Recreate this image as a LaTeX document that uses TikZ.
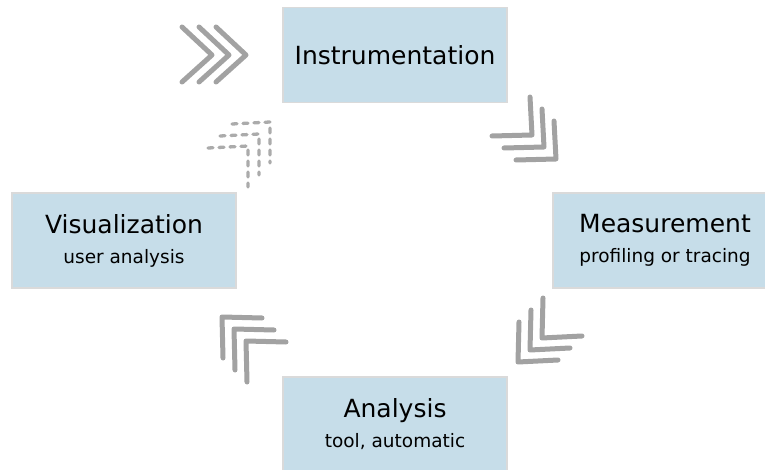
\documentclass[tikz,border=0pt]{standalone}
\usepackage{fontspec}
\setmainfont{DejaVu Sans}
\definecolor{boxfill}{HTML}{C6DDE9}
\definecolor{boxline}{HTML}{DADADA}
\definecolor{arrowgray}{HTML}{A2A2A2}
\definecolor{dashgray}{HTML}{ABABAB}
\tikzset{
  stage/.style={draw=boxline, fill=boxfill, line width=1.2pt,
    minimum width=224pt, minimum height=95pt, inner sep=0pt,
    align=center, font=\fontsize{25}{30}\selectfont},
  chev/.style={draw=arrowgray, line width=5pt, line cap=round, line join=round},
  dchev/.style={draw=dashgray, line width=3.3pt, line cap=round,
    dash pattern=on 5pt off 6pt},
}
\newcommand{\subline}{\fontsize{18.5}{23}\selectfont}
\begin{document}
\begin{tikzpicture}[x=1pt, y=-1pt]
  \useasboundingbox (0,0) rectangle (765,470);
  \clip (0,0) rectangle (765,470);

  % the four stages of the cycle
  \node[stage] (instr) at (395,55) {Instrumentation};
  \node[stage] (meas)  at (665,240.5) {Measurement\\\subline profiling or tracing};
  \node[stage] (anal)  at (395,424.5) {Analysis\\\subline tool, automatic};
  \node[stage] (vis)   at (124,240.5) {Visualization\\\subline user analysis};

  % chevrons leading into Instrumentation
  \foreach \i in {0,1,2} {
    \draw[chev] (182+17*\i,27) -- (212+17*\i,55) -- (182+17*\i,82);
  }
  % Instrumentation -> Measurement
  \foreach \i in {0,1,2} {
    \draw[chev] (530+12*\i,97+12*\i) -- (532+12*\i,135+12*\i) -- (492+12*\i,136+12*\i);
  }
  % Measurement -> Analysis
  \foreach \i in {0,1,2} {
    \draw[chev] (543-12*\i,298+12*\i) -- (542-12*\i,338+12*\i) -- (582-12*\i,336+12*\i);
  }
  % Analysis -> Visualization
  \foreach \i in {0,1,2} {
    \draw[chev] (286-12*\i,342-12*\i) -- (246-12*\i,341-12*\i) -- (247-12*\i,382-12*\i);
  }
  % Visualization -> Instrumentation (dashed)
  \foreach \i in {0,1,2} {
    \draw[dchev] (232-12*\i,124+12*\i) -- (270-11*\i,122+12*\i) -- (270-11*\i,163+12*\i);
  }
\end{tikzpicture}
\end{document}
